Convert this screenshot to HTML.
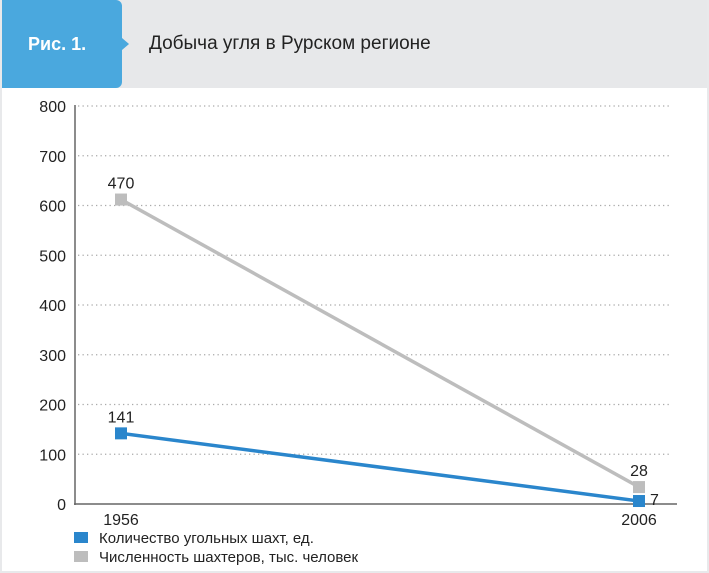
<!DOCTYPE html>
<html><head><meta charset="utf-8"><style>
body{margin:0;background:#fff;font-family:"Liberation Sans",sans-serif;}
#wrap{position:relative;width:709px;height:573px;overflow:hidden;background:#fff;box-sizing:border-box;border:2px solid #e8e9eb;border-top:none}
#hdr{position:absolute;left:0;top:0;width:709px;height:88px;background:#e7e8ea}
#fig{position:absolute;left:0;top:0;width:120px;height:88px;background:#4aa8de;border-radius:0 6px 6px 0;color:#fff;font-weight:bold;font-size:18px;line-height:88px;text-indent:26px}
#arrow{position:absolute;left:120px;top:38px;width:0;height:0;border-left:7px solid #4aa8de;border-top:6px solid transparent;border-bottom:6px solid transparent}
#title{position:absolute;left:147px;top:33px;font-size:19px;color:#222}
svg{position:absolute;left:0;top:0}
</style></head><body>
<div id="wrap">
<div id="hdr"></div>
<div id="fig">Рис. 1.</div>
<div id="arrow"></div>
<div id="title">Добыча угля в Рурском регионе</div>
<svg id="c" width="709" height="573"></svg>
</div>
<script>
const categories=["1956","2006"];
const minesValues=[142,6];
const minesLabels=["141","7"];
const minersValues=[612,34];
const minersLabels=["470","28"];
const yTicks=[0,100,200,300,400,500,600,700,800];
const seriesNames=["Количество угольных шахт, ед.","Численность шахтеров, тыс. человек"];

const svg=document.getElementById('c');const NS='http://www.w3.org/2000/svg';
const y=v=>504-v*(398/800);
const xPos=[119,637];
const x=i=>xPos[0]+(xPos[1]-xPos[0])*i/(categories.length-1);
function el(t,a,p){const e=document.createElementNS(NS,t);for(const k in a)e.setAttribute(k,a[k]);(p||svg).appendChild(e);return e;}
yTicks.forEach(v=>{
 if(v>0){const g=el('line',{x1:76,x2:670,y1:y(v),y2:y(v),stroke:'#aaa','stroke-width':1.3,'stroke-dasharray':'1.3 3.2'});
 
 }
 const t=el('text',{x:64,y:y(v)+6,'text-anchor':'end','font-size':16,fill:'#222'});t.textContent=v;
 
 
});
const ya=el('line',{x1:73,x2:73,y1:105,y2:505,stroke:'#666','stroke-width':1.5});


const xa=el('line',{x1:72,x2:675,y1:504,y2:504,stroke:'#666','stroke-width':1.5});


categories.forEach((c,i)=>{const t=el('text',{x:x(i),y:525,'text-anchor':'middle','font-size':16,fill:'#222'});t.textContent=c;
 
 });
function series(vals,labels,color,name,lblPos){
 const pl=el('polyline',{points:vals.map((v,i)=>x(i)+','+y(v)).join(' '),fill:'none',stroke:color,'stroke-width':3.5});
 
 
 vals.forEach((v,i)=>{const r=el('rect',{x:x(i)-6,y:y(v)-6,width:12,height:12,fill:color});
  
  
  const p=lblPos(i,v);const t=el('text',{x:p[0],y:p[1],'text-anchor':p[2],'font-size':16,fill:'#222'});t.textContent=labels[i];
  
  });
}
series(minersValues,minersLabels,'#bdbdbd','miners',(i,v)=>[x(i),y(v)-11,'middle']);
series(minesValues,minesLabels,'#2a86cc','mines',(i,v)=>i==0?[x(i),y(v)-11,'middle']:[x(i)+11,y(v)+4,'start']);
const colors=['#2a86cc','#bdbdbd'];
seriesNames.forEach((n,i)=>{const yy=537+i*19;
 const r=el('rect',{x:72,y:yy-5,width:14,height:11,fill:colors[i]});
 
 
 const t=el('text',{x:97,y:yy+6,'font-size':15,fill:'#222'});t.textContent=n;
 
 });
</script>
</body></html>
